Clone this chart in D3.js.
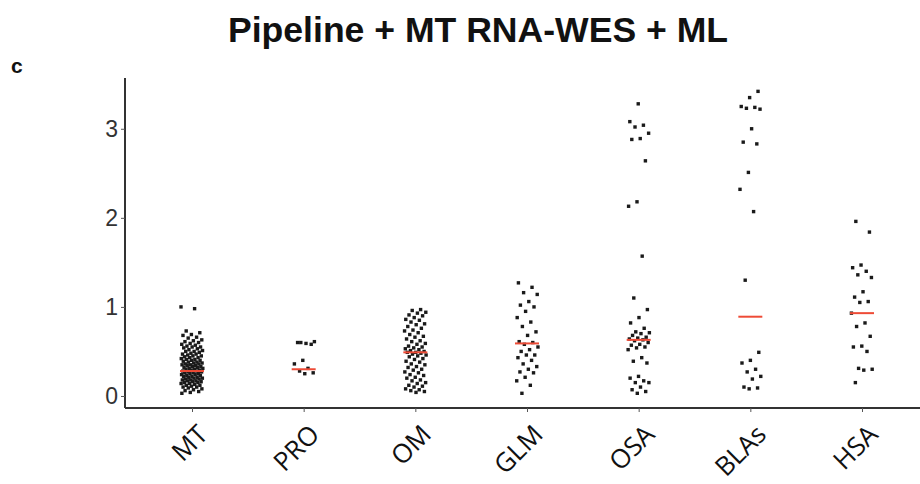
<!DOCTYPE html>
<html lang="en">
<head>
<meta charset="utf-8">
<script src="https://d3js.org/d3.v7.min.js"></script>
<style>
  body { margin: 0; background: #fff; }
  svg { display: block; }
</style>
</head>
<body>
<script>
// groups and values
var groups = ["MT", "PRO", "OM", "GLM", "OSA", "BLAs", "HSA"];
var medians = [0.28, 0.30, 0.49, 0.59, 0.63, 0.89, 0.93];
var yTicks = [0, 1, 2, 3];

var valMT = [1.00, 0.98, 0.73, 0.71, 0.69, 0.68, 0.66, 0.65, 0.63, 0.62, 0.61, 0.60, 0.59, 0.58, 0.57, 0.56,
  0.55, 0.55, 0.54, 0.53, 0.52, 0.51, 0.50, 0.50, 0.49, 0.48, 0.47, 0.47, 0.46, 0.45, 0.45, 0.44, 0.43, 0.43,
  0.42, 0.41, 0.41, 0.40, 0.40, 0.39, 0.38, 0.38, 0.37, 0.37, 0.36, 0.36, 0.35, 0.35, 0.34, 0.34, 0.33, 0.33,
  0.32, 0.32, 0.31, 0.31, 0.30, 0.30, 0.29, 0.29, 0.28, 0.28, 0.27, 0.27, 0.26, 0.26, 0.25, 0.25, 0.24, 0.24,
  0.23, 0.23, 0.22, 0.22, 0.21, 0.21, 0.20, 0.20, 0.19, 0.19, 0.18, 0.18, 0.17, 0.17, 0.16, 0.16, 0.15, 0.15,
  0.14, 0.14, 0.13, 0.12, 0.12, 0.11, 0.10, 0.10, 0.09, 0.08, 0.07, 0.06, 0.05, 0.04, 0.03];
var valPRO = [0.60, 0.61, 0.59, 0.60, 0.58, 0.40, 0.36, 0.31, 0.28, 0.26, 0.25];
var valOM = [0.97, 0.96, 0.94, 0.93, 0.91, 0.90, 0.88, 0.86, 0.85, 0.83, 0.81, 0.80, 0.78, 0.76, 0.74, 0.73,
  0.71, 0.69, 0.67, 0.66, 0.64, 0.62, 0.61, 0.59, 0.58, 0.56, 0.55, 0.54, 0.53, 0.52, 0.51, 0.50, 0.49, 0.49,
  0.48, 0.47, 0.46, 0.45, 0.44, 0.42, 0.41, 0.39, 0.38, 0.36, 0.35, 0.33, 0.32, 0.30, 0.29, 0.27, 0.26, 0.24,
  0.23, 0.21, 0.20, 0.18, 0.17, 0.15, 0.14, 0.12, 0.11, 0.10, 0.08, 0.07, 0.06, 0.05, 0.04];
var valGLM = [1.27, 1.22, 1.16, 1.14, 1.06, 1.02, 1.00, 0.95, 0.88, 0.83, 0.78, 0.72, 0.68, 0.61, 0.60, 0.58,
  0.55, 0.52, 0.50, 0.46, 0.46, 0.43, 0.40, 0.36, 0.33, 0.30, 0.27, 0.26, 0.21, 0.17, 0.12, 0.03];
var valOSA = [3.28, 3.08, 3.04, 3.02, 2.95, 2.89, 2.88, 2.64, 2.18, 2.13, 1.57, 1.10, 0.97, 0.88, 0.82, 0.76,
  0.72, 0.71, 0.70, 0.68, 0.66, 0.65, 0.64, 0.63, 0.62, 0.60, 0.58, 0.57, 0.55, 0.54, 0.52, 0.43, 0.39, 0.37,
  0.22, 0.20, 0.17, 0.15, 0.15, 0.10, 0.07, 0.05, 0.03];
var valBLAs = [3.42, 3.35, 3.25, 3.24, 3.23, 3.22, 3.00, 2.85, 2.83, 2.51, 2.32, 2.07, 1.30, 0.49, 0.40, 0.37,
  0.30, 0.27, 0.22, 0.19, 0.10, 0.09, 0.08];
var valHSA = [1.96, 1.84, 1.47, 1.44, 1.40, 1.36, 1.33, 1.17, 1.11, 1.06, 1.05, 0.93, 0.82, 0.78, 0.67, 0.56,
  0.55, 0.50, 0.31, 0.30, 0.29, 0.15];
var values = [valMT, valPRO, valOM, valGLM, valOSA, valBLAs, valHSA];

var width = 920, height = 484;
var plotLeft = 125, plotTop = 78, plotBottom = 408;

var svg = d3.select("body").append("svg")
  .attr("width", width)
  .attr("height", height);

var x = d3.scalePoint()
  .domain(groups)
  .range([plotLeft, 929])
  .padding(0.6);

var y = d3.scaleLinear()
  .domain([-0.135, 3.57])
  .range([plotBottom, plotTop]);

// title + panel letter
svg.append("text")
  .attr("x", 478).attr("y", 42)
  .attr("text-anchor", "middle")
  .attr("font-family", "Liberation Sans, Arial, sans-serif")
  .attr("font-weight", "bold")
  .attr("font-size", 35)
  .attr("textLength", 500)
  .attr("lengthAdjust", "spacingAndGlyphs")
  .attr("fill", "#111")
  .text("Pipeline + MT RNA-WES + ML");

svg.append("text")
  .attr("x", 11).attr("y", 73)
  .attr("font-family", "Liberation Sans, Arial, sans-serif")
  .attr("font-weight", "bold")
  .attr("font-size", 21)
  .attr("fill", "#111")
  .text("c");

// points, jittered deterministically within each group
var pts = [];
values.forEach(function(arr, gi) {
  arr.forEach(function(v, i) {
    var j = ((i * 0.6180339887 + gi * 0.37) % 1) - 0.5;
    pts.push({ g: groups[gi], v: v, j: j });
  });
});

svg.append("g").selectAll("rect")
  .data(pts)
  .enter().append("rect")
  .attr("x", function(d) { return x(d.g) + d.j * 22 - 1.7; })
  .attr("y", function(d) { return y(d.v) - 1.7; })
  .attr("width", 3.4)
  .attr("height", 3.4)
  .attr("fill", "#1a1a1a");

// median lines
svg.append("g").selectAll("line")
  .data(groups)
  .enter().append("line")
  .attr("x1", function(d) { return x(d) - 12; })
  .attr("x2", function(d) { return x(d) + 12; })
  .attr("y1", function(d, i) { return y(medians[i]); })
  .attr("y2", function(d, i) { return y(medians[i]); })
  .attr("stroke", "#ee4b36")
  .attr("stroke-width", 2);

// axes
var yAxis = svg.append("g")
  .attr("transform", "translate(" + plotLeft + ",0)")
  .call(d3.axisLeft(y).tickValues(yTicks).tickSize(4).tickFormat(d3.format("d")));
yAxis.select(".domain").attr("stroke", "#333").attr("stroke-width", 2)
  .attr("d", "M0," + plotTop + "V" + plotBottom);
yAxis.selectAll(".tick line").attr("stroke", "#555");
yAxis.selectAll(".tick text")
  .attr("font-family", "Liberation Sans, Arial, sans-serif")
  .attr("font-size", 23)
  .attr("fill", "#333");

var xAxis = svg.append("g")
  .attr("transform", "translate(0," + plotBottom + ")")
  .call(d3.axisBottom(x).tickSize(4));
xAxis.select(".domain").attr("stroke", "#333").attr("stroke-width", 2)
  .attr("d", "M" + plotLeft + ",0H" + width);
xAxis.selectAll(".tick line").attr("stroke", "#555");
xAxis.selectAll(".tick text")
  .attr("font-family", "Open Sans, sans-serif")
  .attr("font-size", 26)
  .attr("fill", "#111")
  .attr("text-anchor", "end")
  .attr("dy", null)
  .attr("y", 0)
  .attr("transform", "translate(17,28) rotate(-45)");
</script>
</body>
</html>
